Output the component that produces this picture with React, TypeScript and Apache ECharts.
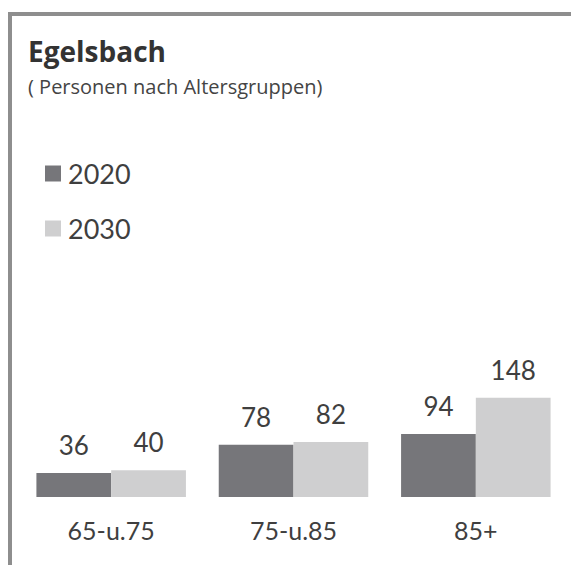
import React, { useEffect, useRef } from "react";
import * as echarts from "echarts";

const categories = ["65-u.75", "75-u.85", "85+"];
const seriesNames = ["2020", "2030"];
const values2020 = [36, 78, 94];
const values2030 = [40, 82, 148];
const titleText = "Egelsbach";
const subtitleText = "( Personen nach Altersgruppen)";

const FONT = "Lato, 'Open Sans', sans-serif";
const HEAD_FONT = "'Open Sans', Lato, sans-serif";
const TEXT = "#3f3f3f";

export default function App() {
  const ref = useRef<HTMLDivElement>(null);
  useEffect(() => {
    if (!ref.current) return;
    const chart = echarts.init(ref.current, undefined, { renderer: "svg" });
    const labelCfg = {
      show: true,
      position: "top",
      distance: 15,
      fontSize: 26,
      lineHeight: 26,
      color: TEXT,
      fontFamily: FONT,
    };
    chart.setOption({
      animation: false,
      backgroundColor: "#ffffff",
      title: {
        text: titleText,
        subtext: subtitleText,
        left: 28,
        top: 37,
        padding: 0,
        itemGap: 11,
        textStyle: {
          fontFamily: HEAD_FONT,
          fontWeight: "bold",
          fontSize: 28,
          lineHeight: 28,
          color: "#333333",
        },
        subtextStyle: {
          fontFamily: HEAD_FONT,
          fontSize: 20,
          lineHeight: 20,
          color: "#444444",
        },
      },
      legend: {
        data: seriesNames,
        orient: "vertical",
        left: 45,
        top: 160,
        padding: 0,
        itemWidth: 16,
        itemHeight: 16,
        itemGap: 28,
        icon: "rect",
        textStyle: {
          fontFamily: FONT,
          fontSize: 27,
          lineHeight: 27,
          color: TEXT,
          padding: [0, 0, 0, 2],
        },
      },
      grid: { left: 20, right: 4, top: 363, bottom: 68 },
      xAxis: {
        type: "category",
        data: categories,
        axisLine: { show: false },
        axisTick: { show: false },
        axisLabel: {
          fontFamily: FONT,
          fontSize: 25,
          color: TEXT,
          margin: 20,
        },
      },
      yAxis: {
        type: "value",
        min: 0,
        max: 200,
        show: false,
        splitLine: { show: false },
      },
      series: [
        {
          name: seriesNames[0],
          type: "bar",
          data: values2020,
          barGap: "0%",
          barCategoryGap: "18%",
          itemStyle: { color: "#76767a" },
          label: labelCfg,
        },
        {
          name: seriesNames[1],
          type: "bar",
          data: values2030,
          barGap: "0%",
          barCategoryGap: "18%",
          itemStyle: { color: "#cfcfd0" },
          label: labelCfg,
        },
      ],
      graphic: [
        {
          type: "rect",
          shape: { x: 8, y: 12, width: 563, height: 4 },
          style: { fill: "#8e8e8e" },
          silent: true,
        },
        {
          type: "rect",
          shape: { x: 8, y: 12, width: 4, height: 553 },
          style: { fill: "#8e8e8e" },
          silent: true,
        },
      ],
    });
    return () => chart.dispose();
  }, []);
  return (
    <div
      ref={ref}
      style={{ position: "absolute", left: 0, top: 0, width: 571, height: 565 }}
    />
  );
}
